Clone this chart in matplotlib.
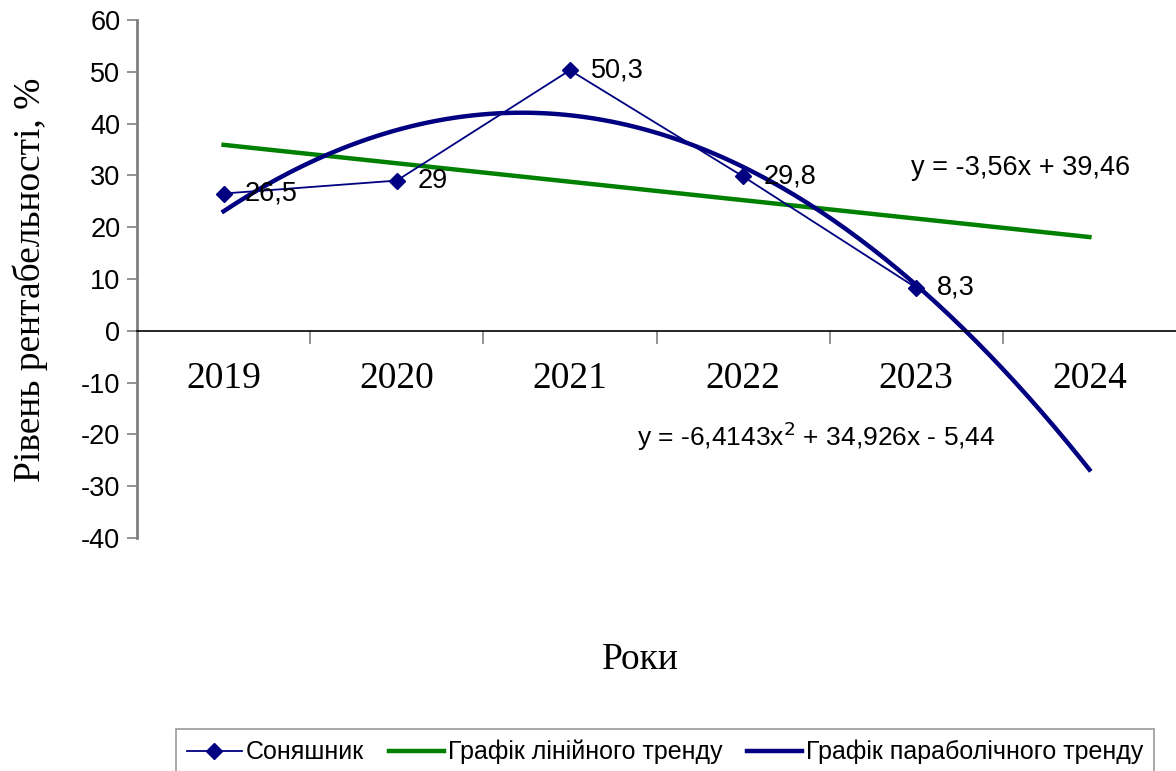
import numpy as np
import matplotlib
matplotlib.use("Agg")
import matplotlib.pyplot as plt

# data
years = ['2019', '2020', '2021', '2022', '2023', '2024']
sunflower = [26.5, 29, 50.3, 29.8, 8.3]
labels = ['26,5', '29', '50,3', '29,8', '8,3']

plt.rcParams['font.family'] = ['Liberation Sans', 'DejaVu Sans']
plt.rcParams['axes.unicode_minus'] = False

fig = plt.figure(figsize=(11.76, 7.71), dpi=100)
ax = fig.add_axes([137/1176, 1-538/771, 1-137/1176, (538-20)/771])

x = np.arange(len(sunflower))
# trend lines, fitted like excel does (x = 1..5)
t = x + 1
lin = np.polyfit(t, sunflower, 1)
par = np.polyfit(t, sunflower, 2)
tt = np.linspace(1, 6, 200)

navy = '#000080'
green = '#008000'

ax.plot(x, sunflower, color=navy, lw=1.3, marker='D', ms=8, label='Соняшник', zorder=3)
ax.plot(tt - 1, np.polyval(lin, tt), color=green, lw=3.2, label='Графік лінійного тренду', zorder=2)
ax.plot(tt - 1, np.polyval(par, tt), color=navy, lw=3.2, label='Графік параболічного тренду', zorder=2)

for xi, yi, s in zip(x, sunflower, labels):
    ax.annotate(s, (xi, yi), xytext=(15, 0), textcoords='offset points',
                fontsize=19.5, va='center', ha='left')

ax.text(3.97, 31.5, 'y = -3,56x + 39,46', fontsize=19.5, va='center')
ax.text(2.39, -20.3, 'y = -6,4143x$^2$ + 34,926x - 5,44', fontsize=19, va='center')

ax.set_xlim(-0.5, 5.5)
ax.set_ylim(-40, 60)
ax.set_yticks(range(-40, 61, 10))
ax.tick_params(axis='y', labelsize=19.5, color='#808080', length=7, width=1.2, pad=5)

for sp in ['top', 'right']:
    ax.spines[sp].set_visible(False)
ax.spines['left'].set_color('#808080')
ax.spines['left'].set_linewidth(2)
ax.spines['bottom'].set_position(('data', 0))
ax.spines['bottom'].set_color('black')
ax.spines['bottom'].set_linewidth(1.2)

ax.set_xticks(np.arange(0.5, 5, 1))
ax.set_xticklabels([])
ax.tick_params(axis='x', direction='out', length=9, color='#808080', width=1.2)
for xi, yr in zip(range(6), years):
    ax.text(xi, -9.3, yr, fontsize=27, family='Liberation Serif', ha='center', va='center')

fig.text(30/1176, 1-280/771, 'Рівень рентабельності, %', rotation=90, fontsize=27,
         family='Liberation Serif', ha='center', va='center')
fig.text(640/1176, 1-660/771, 'Роки', fontsize=27, family='Liberation Serif',
         ha='center', va='center')

leg = fig.legend(loc='center', bbox_to_anchor=(665/1176, 1-752/771), ncol=3,
                 fontsize=18, frameon=True, fancybox=False, handlelength=2.2,
                 columnspacing=1.0, handletextpad=0.15, borderpad=0.45)
leg.get_frame().set_edgecolor('#808080')
leg.get_frame().set_linewidth(1.2)

fig.savefig('out.png', dpi=100)
